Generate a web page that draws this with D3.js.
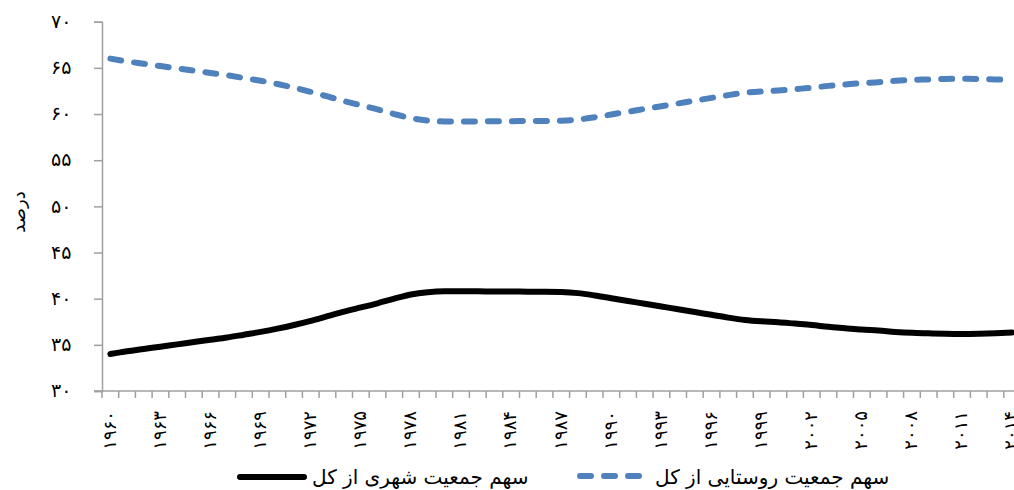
<!DOCTYPE html>
<html><head><meta charset="utf-8">
<script src="https://cdn.jsdelivr.net/npm/d3@7"></script>
<style>html,body{margin:0;padding:0;background:#fff;}svg{display:block;}</style>
</head><body>
<svg id="chart" width="1014" height="490"></svg>
<script>
const years = [1960,1961,1962,1963,1964,1965,1966,1967,1968,1969,1970,1971,1972,1973,1974,1975,1976,1977,1978,1979,1980,1981,1982,1983,1984,1985,1986,1987,1988,1989,1990,1991,1992,1993,1994,1995,1996,1997,1998,1999,2000,2001,2002,2003,2004,2005,2006,2007,2008,2009,2010,2011,2012,2013,2014];
const urbanShare = [34.0,34.3,34.55,34.8,35.05,35.3,35.55,35.8,36.1,36.4,36.75,37.15,37.6,38.1,38.6,39.05,39.5,40.0,40.45,40.7,40.8,40.8,40.8,40.78,40.78,40.75,40.75,40.72,40.6,40.35,40.05,39.75,39.45,39.15,38.85,38.55,38.25,37.95,37.7,37.55,37.45,37.3,37.15,36.95,36.8,36.65,36.55,36.4,36.3,36.25,36.2,36.18,36.2,36.25,36.33];
const ruralShare = [66.0,65.7,65.45,65.2,64.95,64.7,64.45,64.2,63.9,63.6,63.25,62.85,62.4,61.9,61.4,60.95,60.5,60.0,59.55,59.3,59.2,59.2,59.2,59.22,59.22,59.25,59.25,59.28,59.4,59.65,59.95,60.25,60.55,60.85,61.15,61.45,61.75,62.05,62.3,62.45,62.55,62.7,62.85,63.05,63.2,63.35,63.45,63.6,63.7,63.75,63.8,63.82,63.8,63.75,63.67];
const yTicks = [30,35,40,45,50,55,60,65,70];
const seriesNames = ["سهم جمعیت شهری از کل", "سهم جمعیت روستایی از کل"];
const yTitle = "درصد";

const faDigits = "۰۱۲۳۴۵۶۷۸۹";
const toFa = n => String(n).replace(/\d/g, d => faDigits[+d]);

const svg = d3.select("#chart");
const FONT = "DejaVu Sans";
const AX = "#a0a0a0";

const x = d3.scaleBand().domain(years).range([102, 1020.5]).paddingInner(0).paddingOuter(0);
const y = d3.scaleLinear().domain([30, 70]).range([391, 21.7]);
const cx = d => x(d) + x.bandwidth() / 2;

// y axis
const yAxis = d3.axisLeft(y).tickValues(yTicks).tickSize(8).tickFormat(toFa);
const gy = svg.append("g").attr("transform", "translate(102,0)").call(yAxis);
gy.select(".domain").attr("stroke", AX).attr("stroke-width", 1.5);
gy.selectAll(".tick line").attr("stroke", AX).attr("stroke-width", 1.5);
gy.selectAll(".tick text").attr("font-family", FONT).attr("font-size", 19).attr("fill", "#000")
  .attr("text-anchor", "start").attr("x", -51).attr("dy", "0.3em");

// x axis (ticks at category boundaries)
const gx = svg.append("g");
gx.append("line").attr("x1", 94).attr("x2", 1014).attr("y1", 391).attr("y2", 391)
  .attr("stroke", AX).attr("stroke-width", 1.5);
gx.selectAll("line.t").data(years).join("line").attr("class", "t")
  .attr("x1", d => x(d)).attr("x2", d => x(d)).attr("y1", 391).attr("y2", 398)
  .attr("stroke", AX).attr("stroke-width", 1.5);
gx.selectAll("text").data(years.filter((d, i) => i % 3 === 0)).join("text")
  .attr("transform", d => `translate(${cx(d) - 1},411) rotate(-90)`)
  .attr("text-anchor", "end").attr("dy", "0.35em")
  .attr("font-family", FONT).attr("font-size", 18).attr("fill", "#000")
  .text(toFa);

// y title
svg.append("text").attr("transform", "translate(19,212) rotate(-90)")
  .attr("text-anchor", "middle").attr("dy", "0.35em")
  .attr("font-family", FONT).attr("font-size", 18).text(yTitle);

// lines
const line = vals => d3.line().x((d, i) => cx(years[i])).y(d => y(d)).curve(d3.curveMonotoneX)(vals);
svg.append("path").attr("d", line(ruralShare)).attr("fill", "none")
  .attr("stroke", "#4f81bd").attr("stroke-width", 6).attr("stroke-linecap", "round")
  .attr("stroke-dasharray", "11,13");
svg.append("path").attr("d", line(urbanShare)).attr("fill", "none")
  .attr("stroke", "#000").attr("stroke-width", 6).attr("stroke-linecap", "round");

// legend
const lg = svg.append("g");
lg.append("line").attr("x1", 240).attr("x2", 304).attr("y1", 477).attr("y2", 477)
  .attr("stroke", "#000").attr("stroke-width", 6).attr("stroke-linecap", "round");
lg.append("text").attr("x", 312).attr("y", 477).attr("dy", "0.35em")
  .attr("font-family", FONT).attr("font-size", 20).text(seriesNames[0]);
lg.append("line").attr("x1", 580).attr("x2", 640).attr("y1", 476).attr("y2", 476)
  .attr("stroke", "#4f81bd").attr("stroke-width", 6).attr("stroke-linecap", "round")
  .attr("stroke-dasharray", "11,13");
lg.append("text").attr("x", 655).attr("y", 477).attr("dy", "0.35em")
  .attr("font-family", FONT).attr("font-size", 20).text(seriesNames[1]);
</script>
</body></html>
